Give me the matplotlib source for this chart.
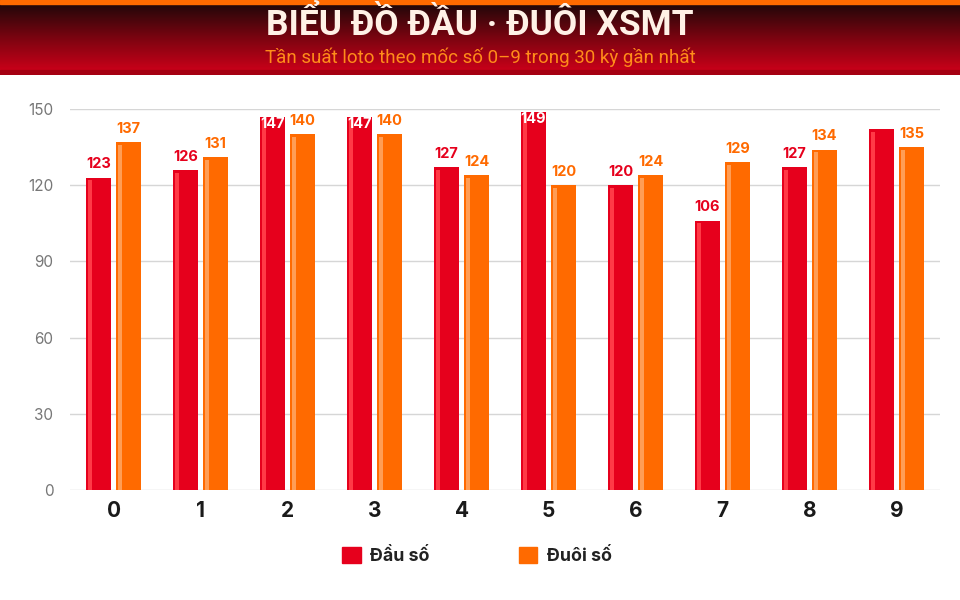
import matplotlib
matplotlib.use("Agg")
import matplotlib.pyplot as plt
import matplotlib.patches as mpatches
from matplotlib.colors import LinearSegmentedColormap
import numpy as np

# data
digits = ["0", "1", "2", "3", "4", "5", "6", "7", "8", "9"]
dau_so = [123, 126, 147, 147, 127, 149, 120, 106, 127, 142]
duoi_so = [137, 131, 140, 140, 124, 120, 124, 129, 134, 135]
hide_label = [False] * 9 + [True]   # the reference leaves the last red bar unlabelled
y_ticks = [0, 30, 60, 90, 120, 150]

title = "BIỂU ĐỒ ĐẦU · ĐUÔI XSMT"
subtitle = "Tần suất loto theo mốc số 0–9 trong 30 kỳ gần nhất"
series_names = ["Đầu số", "Đuôi số"]

RED = "#e6001c"
RED_HI = "#ff3a46"
ORANGE = "#ff6a00"
ORANGE_HI = "#ff9d55"

plt.rcParams["font.family"] = ["Inter", "DejaVu Sans"]

fig = plt.figure(figsize=(9.6, 6), dpi=100)
fig.patch.set_facecolor("white")

# header band with gradient
hdr = fig.add_axes([0, 1 - 75 / 600, 1, 75 / 600])
hdr.set_axis_off()
grad = np.linspace(0, 1, 256).reshape(-1, 1)
cmap = LinearSegmentedColormap.from_list("hdr", ["#d4001a", "#7a0410", "#160808"])
hdr.imshow(grad, aspect="auto", cmap=cmap, extent=[0, 1, 0, 1], origin="lower")
hdr.add_patch(mpatches.Rectangle((0, 0), 1, 5 / 75, color="#a50012", transform=hdr.transAxes))
hdr.add_patch(mpatches.Rectangle((0, 71 / 75), 1, 4 / 75, color="#ff6a00", transform=hdr.transAxes))
hdr.set_xlim(0, 1)
hdr.set_ylim(0, 1)

fig.text(0.5, 1 - 25 / 600, title, ha="center", va="center", color="#fff1e6",
         fontsize=25.5, fontweight="bold", family=["Roboto", "DejaVu Sans"])
fig.text(0.5, 1 - 57 / 600, subtitle, ha="center", va="center", color="#ff8c1a",
         fontsize=13.5, family=["Roboto", "DejaVu Sans"])

# main chart
ax = fig.add_axes([70 / 960, 110 / 600, 870 / 960, 381 / 600])
x = np.arange(len(digits))
w = 0.29
off = 0.172

red_bars = ax.bar(x - off, dau_so, w, color=RED, edgecolor="none", zorder=3)
org_bars = ax.bar(x + off, duoi_so, w, color=ORANGE, edgecolor="none", zorder=3)

# light strip on the left of each bar
for bars, hi in ((red_bars, RED_HI), (org_bars, ORANGE_HI)):
    for b in bars:
        ax.add_patch(mpatches.Rectangle((b.get_x() + 0.02, 0), 0.045, b.get_height() - 1.0,
                                        color=hi, zorder=3.5, lw=0))

ymax = 150
for i in range(len(digits)):
    for vals, xs, col in ((dau_so, x[i] - off, RED), (duoi_so, x[i] + off, ORANGE)):
        v = vals[i]
        if vals is dau_so and hide_label[i]:
            continue
        if v + 7 > ymax:
            ax.text(xs, v - 0.3, str(v), ha="center", va="top", color="white",
                    fontsize=10.5, fontweight="bold", zorder=5)
        else:
            ax.text(xs, v + 2.5, str(v), ha="center", va="bottom", color=col,
                    fontsize=10.5, fontweight="bold", zorder=5)

ax.set_xlim(-0.5, len(digits) - 0.5)
ax.set_ylim(0, ymax)
ax.set_yticks(y_ticks)
ax.set_xticks(x)
ax.set_xticklabels(digits, fontsize=15, fontweight="bold", color="#1a1a1a")
ax.tick_params(axis="y", length=0, pad=12, labelsize=11, labelcolor="#777777")
ax.tick_params(axis="x", length=0, pad=8)
ax.grid(axis="y", color="#d6d6d6", linewidth=1, zorder=0)
for s in ax.spines.values():
    s.set_visible(False)

# legend
handles = [mpatches.Patch(color=RED, label=series_names[0]),
           mpatches.Patch(color=ORANGE, label=series_names[1])]
leg = fig.legend(handles=handles, loc="center", bbox_to_anchor=(0.497, 1 - 556 / 600),
                 ncol=2, frameon=False, handlelength=1.05, handleheight=1.05,
                 columnspacing=5.0, handletextpad=0.55,
                 prop={"weight": "bold", "size": 12.8})
for t in leg.get_texts():
    t.set_color("#222222")

fig.savefig("out.png", dpi=100)
